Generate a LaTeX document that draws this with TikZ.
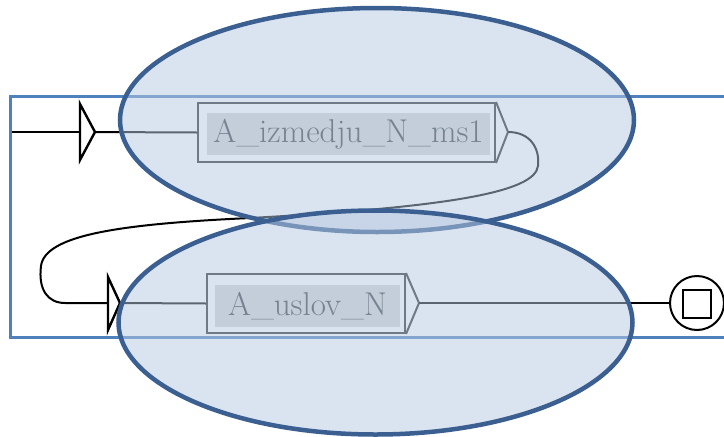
\documentclass[tikz,border=0pt]{standalone}
\usetikzlibrary{shapes.geometric}
\definecolor{framec}{HTML}{4F81BD}
\definecolor{ovalfill}{HTML}{B7C9E2}
\definecolor{ovaledge}{HTML}{3A5F90}
\definecolor{boxedge}{HTML}{2A2A2A}
\definecolor{boxin}{HTML}{D2D4D5}
\definecolor{labelc}{HTML}{383B3E}
\tikzset{
  conn/.style={line width=2pt, black},
  gate/.style={line width=2.4pt, black, line join=miter},
  boxframe/.style={draw=boxedge, line width=2pt, fill=white, inner sep=0pt},
  boxlabel/.style={fill=boxin, text=labelc, inner sep=0pt,
    font=\fontsize{33}{40}\selectfont},
  oval/.style={ellipse, draw=ovaledge, line width=4.5pt,
    fill=ovalfill, fill opacity=0.5, draw opacity=1,
    minimum width=514pt, minimum height=224pt, inner sep=0pt},
}
\begin{document}
\begin{tikzpicture}[x=1pt,y=-1pt]
\useasboundingbox (0,0) rectangle (724,437);
\fill[white] (0,0) rectangle (724,437);

% outer frame, open on the right
\draw[framec, line width=3pt] (730,96) -- (10,96) -- (10,337) -- (730,337);

% entry
\coordinate (start) at (12,132);
\coordinate (g1) at (80,132);
\coordinate (g1tip) at (95,132);
\draw[gate] (80,104) -- (g1tip) -- (80,160) -- cycle;
\draw[conn] (start) -- (g1);

% first box
\node[boxframe, minimum width=297pt, minimum height=59pt] (b1) at (346.5,132.5) {};
\node[boxlabel, minimum width=283pt, minimum height=42pt] (t1) at (348.5,134) {A\_izmedju\_N\_ms1};
\draw[conn] (g1tip) -- (b1.west);
\coordinate (b1tip) at (508,132);
\draw[line width=2pt, boxedge] (b1.north east) -- (b1tip) -- (b1.south east);

% loop back to the second row
\coordinate (g2) at (108,303);
\coordinate (g2tip) at (120,303);
\draw[conn] (b1tip) .. controls (530,132) and (540,148) .. (538,166)
  .. controls (535,192) and (450,207) .. (250,218)
  .. controls (120,224) and (45,235) .. (41,266)
  .. controls (38,290) and (48,303) .. (65,303) -- (g2);
\draw[gate] (108,277) -- (g2tip) -- (108,330) -- cycle;

% second box
\node[boxframe, minimum width=198pt, minimum height=59pt] (b2) at (306,303.5) {};
\node[boxlabel, minimum width=185pt, minimum height=42pt] (t2) at (307.5,306) {A\_uslov\_N};
\draw[conn] (g2tip) -- (b2.west);
\coordinate (b2tip) at (419,303);
\draw[line width=2pt, boxedge] (b2.north east) -- (b2tip) -- (b2.south east);

% end marker
\node[circle, draw=black, line width=2pt, fill=white, minimum size=54pt, inner sep=0pt] (end) at (697,303) {};
\node[draw=black, line width=2.6pt, minimum size=28pt, inner sep=0pt] (endsq) at (697,304) {};
\draw[conn] (b2tip) -- (end.west);

% highlight ovals
\node[oval] (o1) at (377,120) {};
\node[oval] (o2) at (375.5,322.5) {};
\end{tikzpicture}
\end{document}
